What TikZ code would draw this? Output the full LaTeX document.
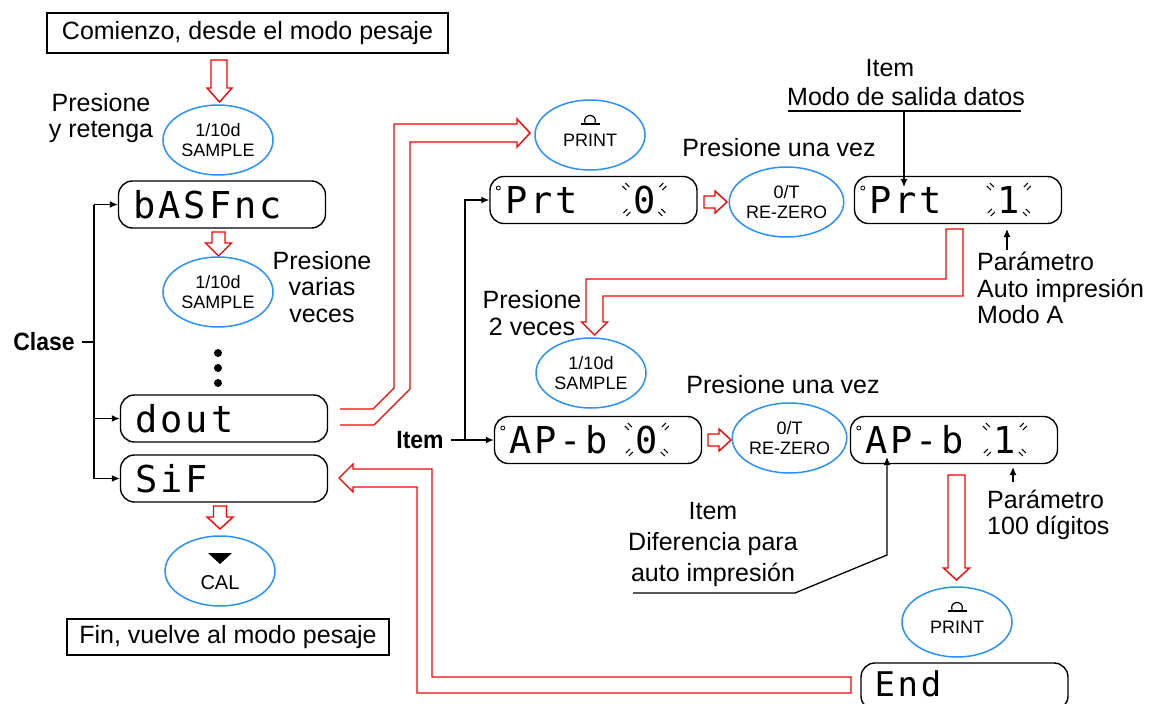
\documentclass[tikz,border=0pt]{standalone}
\usepackage{fontspec}
\setmainfont{Liberation Sans}
\newfontfamily\lcdfont[LetterSpace=8]{DejaVu Sans Mono}
\newfontfamily\boldlab[FakeStretch=0.92]{Liberation Sans}
\usetikzlibrary{shapes.geometric,arrows.meta,calc}
\definecolor{btnblue}{RGB}{40,145,255}
\definecolor{arrred}{RGB}{255,0,0}
\tikzset{
  lab/.style={font=\fontsize{25}{26.5}\selectfont, inner sep=0pt, align=center},
  boxlab/.style={draw, line width=1.5pt, inner sep=0pt, font=\fontsize{25}{26}\selectfont},
  boldtag/.style={font=\boldlab\bfseries\fontsize{25}{25}\selectfont, inner sep=0pt},
  btn/.style={ellipse, draw=btnblue, line width=1.5pt, minimum width=110pt, minimum height=70pt, inner sep=0pt, align=center, font=\fontsize{18}{19.5}\selectfont},
  btntxt/.style={inner sep=0pt, font=\fontsize{18}{19.5}\selectfont},
  disp/.style={draw, rounded corners=14pt, line width=1.4pt, minimum height=47pt, text width=177pt, inner xsep=15pt, inner ysep=0pt, text height=27pt, text depth=0pt, align=left, font={\lcdfont\fontsize{37}{37}\selectfont}},
  lcddig/.style={inner sep=0pt, text height=27pt, text depth=0pt, font={\lcdfont\fontsize{37}{37}\selectfont}},
  hollow/.style={draw=arrred, line width=1.4pt, line join=miter},
  blk/.style={draw=black, line width=1.3pt},
  tip/.style={-{Latex[length=8pt,width=7pt]}},
  dotmark/.style={circle, fill=black, inner sep=0pt, minimum size=8pt},
  flashA/.pic={\draw[line width=1pt] (-4,-1) -- (0,3) (-1,-4) -- (3,0);},
  flashB/.pic={\draw[line width=1pt] (4,-1) -- (0,3) (1,-4) -- (-3,0);},
  flashset/.pic={
    \pic at (-18,-13) {flashA}; \pic at (18,-13) {flashB};
    \pic at (-18,13) {flashB}; \pic at (18,13) {flashA};},
  printsym/.pic={\draw[line width=1.2pt] (-5,3) .. controls (-8,-7) and (8,-7) .. (5,3); \draw[line width=1.2pt] (-9.5,4) -- (9.5,4);}
}
\begin{document}
\begin{tikzpicture}[x=1pt,y=-1pt]
\useasboundingbox (0,0) rectangle (1152,704);
\clip (0,0) rectangle (1152,704);

% ---- left column ----
\node[boxlab, minimum width=401pt, minimum height=40pt] (start) at (247.5,33) {Comienzo, desde el modo pesaje};
\draw[hollow] (211,60) -- (227,60) -- (227,88) -- (232,88) -- (219.5,102) -- (207,88) -- (211,88) -- cycle;
\node[lab] (press1) at (101,118) {Presione\\y retenga};
\node[btn] (samp1) at (218,140) {1/10d\\SAMPLE};

\node[disp] (basf) at (222,204.5) {bASFnc};
\draw[hollow] (212,232) -- (225,232) -- (225,243) -- (231.5,243) -- (218.5,256) -- (205.5,243) -- (212,243) -- cycle;
\node[btn] (samp2) at (218,292) {1/10d\\SAMPLE};
\node[lab] (press2) at (322,287) {Presione\\varias\\veces};
\node[dotmark] (dot1) at (218,353) {};
\node[dotmark] (dot2) at (218,368) {};
\node[dotmark] (dot3) at (218,383) {};
\node[disp] (dout) at (224,418.5) {dout};
\node[disp] (sif) at (224,478.5) {SiF};
\draw[hollow] (213.5,506) -- (226.5,506) -- (226.5,517) -- (233,517) -- (220,529) -- (207,517) -- (213.5,517) -- cycle;
\node[btn] (cal) at (220,571) {};
\fill ($(cal)+(-12,-18)$) -- ($(cal)+(12,-18)$) -- ($(cal)+(0,-7)$) -- cycle;
\node[btntxt, font=\fontsize{20}{22}\selectfont] (caltxt) at ($(cal)+(0,12)$) {CAL};
\node[boxlab, minimum width=322pt, minimum height=36pt] (fin) at (228,637) {Fin, vuelve al modo pesaje};

% Clase bracket
\node[boldtag] (clase) at (44,342) {Clase};
\coordinate (cl) at (94,342);
\draw[blk] ($(clase.east)+(7,0)$) -- (cl);
\draw[blk] (cl |- basf.west) -- (cl |- sif.west);
\draw[blk,tip] (cl |- basf.west) -- (basf.west);
\draw[blk,tip] (cl |- dout.west) -- (dout.west);
\draw[blk,tip] (cl |- sif.west) -- (sif.west);

% ---- dout -> PRINT double arrow ----
\draw[hollow] (340,409) -- (373,409) -- (394,388) -- (394,124) -- (517,124) -- (517,119) -- (530,133) -- (517,147) -- (517,142) -- (410,142) -- (410,389) -- (374,425) -- (340,425);
\node[btn] (print1) at (590,135) {};
\pic at ($(print1)+(0,-15)$) {printsym};
\node[btntxt] (print1t) at ($(print1)+(0,5)$) {PRINT};

% ---- row 1 ----
\node[disp] (pr0) at (593.5,200) {Prt};
\node[lcddig] (pr0d) at ($(pr0.west)+(155,0)$) {0};
\pic at (pr0d) {flashset};
\draw[line width=0.8pt] ($(pr0.west)+(9,-12)$) circle (2);
\draw[hollow] (704,196) -- (715,196) -- (715,191) -- (727,202) -- (715,213) -- (715,208) -- (704,208) -- cycle;
\node[btn, minimum width=108pt] (ot1) at (786.5,202) {0/T\\RE-ZERO};
\node[lab] (pv1) at (779,148) {Presione una vez};
\node[disp] (pr1) at (958,200) {Prt};
\node[lcddig] (pr1d) at ($(pr1.west)+(155,0)$) {1};
\pic at (pr1d) {flashset};
\draw[line width=0.8pt] ($(pr1.west)+(9,-12)$) circle (2);

\node[lab] (it1) at (890,68) {Item};
\node[lab] (modo) at (906,97) {Modo de salida datos};
\draw[blk] (788,111) -- (1021,111);
\draw[blk,tip] (904,111) -- (904,187);
\node[lab, align=left, anchor=west] (par1) at (977,288) {Parámetro\\Auto impresión\\Modo A};
\draw[blk,tip] (1007,250) -- (1007,229);

% Prt1 -> SAMPLE double arrow
\draw[hollow] (946,229) -- (963,229) -- (963,296) -- (603,296) -- (603,322) -- (607.5,322) -- (594.5,335) -- (581.5,322) -- (586,322) -- (586,279) -- (946,279) -- cycle;
\node[lab] (p2v) at (532,313) {Presione\\2 veces};
\node[btn] (samp3) at (591,373) {1/10d\\SAMPLE};

% ---- row 2 ----
\node[boldtag] (item2) at (420,440) {Item};
\coordinate (iv) at (465,440);
\node[disp] (ap0) at (598,440) {AP-b};
\node[lcddig] (ap0d) at ($(ap0.west)+(153,0)$) {0};
\pic at (ap0d) {flashset};
\draw[line width=0.8pt] ($(ap0.west)+(9,-12)$) circle (2);
\draw[blk,tip] ($(item2.east)+(7,0)$) -- (ap0.west);
\draw[blk,tip] (iv |- ap0.west) -- (iv |- pr0.west) -- (pr0.west);
\draw[hollow] (708,434) -- (719,434) -- (719,429) -- (731,440) -- (719,451) -- (719,446) -- (708,446) -- cycle;
\node[btn, minimum width=108pt] (ot2) at (789.5,438) {0/T\\RE-ZERO};
\node[lab] (pv2) at (783,385) {Presione una vez};
\node[disp] (ap1) at (954,440) {AP-b};
\node[lcddig] (ap1d) at ($(ap1.west)+(155,0)$) {1};
\pic at (ap1d) {flashset};
\draw[line width=0.8pt] ($(ap1.west)+(9,-12)$) circle (2);

\node[lab, align=left, anchor=west] (par2) at (987,515) {Parámetro\\100 dígitos};
\draw[blk,tip] (1013,482) -- (1013,467);
\node[lab, font=\fontsize{25}{31}\selectfont] (dif) at (713,544) {Item\\Diferencia para\\auto impresión};
\draw[blk,tip] (633,593) -- (795,593) -- (887,555) -- (887,457);

% AP-b1 -> PRINT
\draw[hollow] (948,475) -- (965,475) -- (965,568) -- (969.5,568) -- (956.5,580) -- (943.5,568) -- (948,568) -- cycle;
\node[btn] (print2) at (957,622) {};
\pic at ($(print2)+(0,-15)$) {printsym};
\node[btntxt] (print2t) at ($(print2)+(0,5)$) {PRINT};

% End
\node[draw, rounded corners=14pt, line width=1.4pt, minimum width=207pt, minimum height=47pt, inner sep=0pt] (endd) at (964.5,686.5) {};
\node[inner sep=0pt, text height=25pt, text depth=0pt, font={\lcdfont\fontsize{34}{34}\selectfont}, anchor=west] (endt) at ($(endd.west)+(14,-3)$) {End};
\draw[hollow] (851,677) -- (851,693) -- (417,693) -- (417,487) -- (353,487) -- (353,492) -- (339,478) -- (353,464) -- (353,469) -- (432,469) -- (432,677) -- cycle;
\end{tikzpicture}
\end{document}
